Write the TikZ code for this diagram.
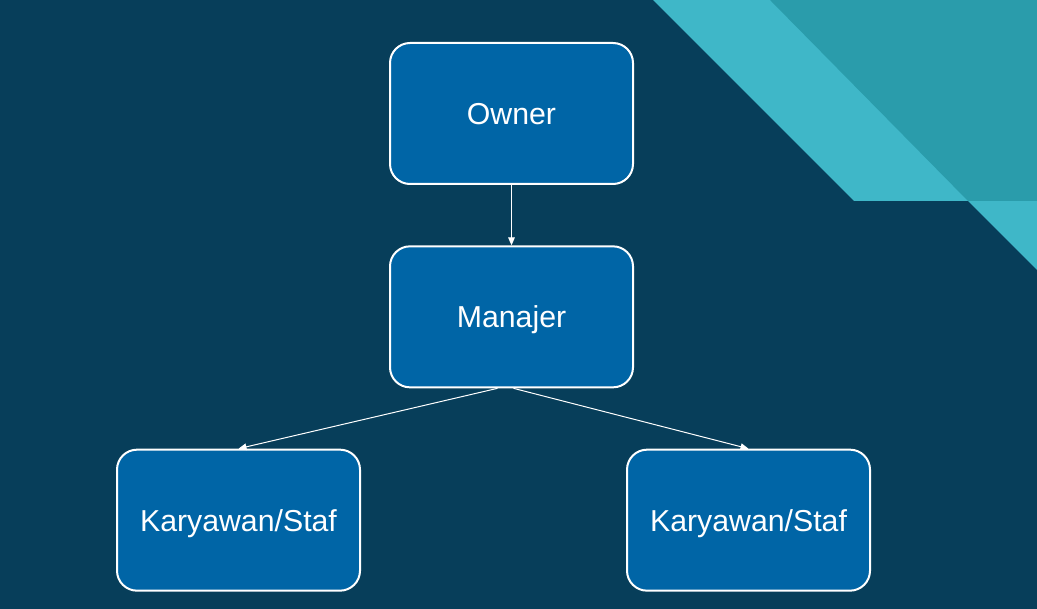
\documentclass[tikz,border=0pt]{standalone}
\usepackage{fontspec}
\setmainfont{Liberation Sans}
\usepackage{xcolor}
\usepackage{tikz}
\usetikzlibrary{arrows.meta, positioning, backgrounds}
\definecolor{slidebg}{RGB}{7,62,90}
\definecolor{boxblue}{RGB}{0,101,166}
\definecolor{teallight}{RGB}{63,183,200}
\definecolor{tealdark}{RGB}{42,156,171}
\tikzstyle{orgbox} = [rectangle, rounded corners=15pt, minimum width=182.25pt, minimum height=105.75pt, text centered, draw=white, line width=1.5pt, fill=boxblue, text=white, text depth=0pt, font=\fontsize{22.7}{27}\selectfont]
\tikzstyle{line} = [draw=white, line width=0.75pt, -{Triangle[length=6pt,width=5pt]}]

\begin{document}
\begin{tikzpicture}[x=0.75pt, y=-0.75pt, node distance = 152.5pt]
    % Background
    \fill [slidebg] (0,0) rectangle (1037,609);
    \fill [teallight] (653,0) -- (1037,0) -- (1037,270) -- (968,201) -- (854,201) -- cycle;
    \fill [tealdark] (770,0) -- (1037,0) -- (1037,201) -- (968,201) -- cycle;
    % Nodes
    \node [orgbox] (owner) at (511.5,113.5) {Owner};
    \node [orgbox, below of=owner] (mgr) {Manajer};
    \node [orgbox, below of=mgr, xshift=-204.75pt] (stafl) {Karyawan/Staf};
    \node [orgbox, below of=mgr, xshift=177.75pt] (stafr) {Karyawan/Staf};

    % Edges
    \path [line] (owner) -- (mgr);
    \path [line] ([xshift=-10.5pt]mgr.south) -- (stafl.north);
    \path [line] ([xshift=1.5pt]mgr.south) -- (stafr.north);
\end{tikzpicture}
\end{document}
